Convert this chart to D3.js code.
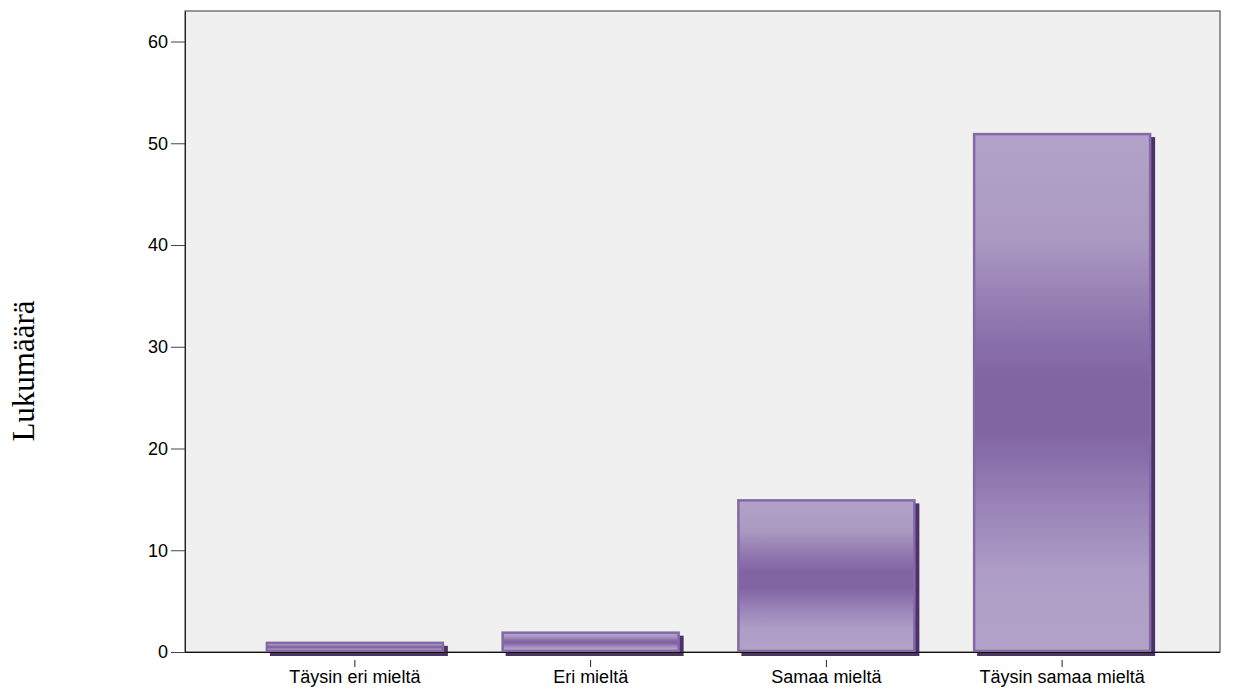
<!DOCTYPE html>
<html>
<head>
<meta charset="utf-8">
<script src="https://cdn.jsdelivr.net/npm/d3@7"></script>
<style>
  body { margin: 0; background: #fff; }
  svg { display: block; }
</style>
</head>
<body>
<div id="chart"></div>
<script>
// data
const categories = ["Täysin eri mieltä", "Eri mieltä", "Samaa mieltä", "Täysin samaa mieltä"];
const counts = [1, 2, 15, 51];
const yTicks = [0, 10, 20, 30, 40, 50, 60];

const W = 1234, H = 688;
const plot = { left: 185, top: 11, right: 1220, bottom: 652 };

const svg = d3.select("#chart").append("svg")
    .attr("width", W)
    .attr("height", H);

// gradient for bars: light at top and bottom, dark purple in the middle
const defs = svg.append("defs");
const grad = defs.append("linearGradient")
    .attr("id", "barGrad")
    .attr("x1", 0).attr("y1", 0).attr("x2", 0).attr("y2", 1);
[[0, "#b2a2c8"], [0.2, "#ab99c2"], [0.38, "#8d74ad"], [0.48, "#8063a1"], [0.58, "#8165a3"], [0.72, "#9a84b8"], [0.85, "#ae9dc6"], [1, "#b2a2c8"]]
    .forEach(([o, c]) => grad.append("stop").attr("offset", o).attr("stop-color", c));

// plot background
svg.append("rect")
    .attr("x", plot.left)
    .attr("y", plot.top)
    .attr("width", plot.right - plot.left)
    .attr("height", plot.bottom - plot.top)
    .attr("fill", "#f0f0f0")
    .attr("stroke", "#555")
    .attr("stroke-width", 1.2);

// scales
const x = d3.scaleBand()
    .domain(categories)
    .range([237, 1180])
    .paddingInner(0.245)
    .paddingOuter(0.1225);

const y = d3.scaleLinear()
    .domain([0, 63])
    .range([plot.bottom, plot.top]);

const barData = categories.map((c, i) => ({ cat: c, value: counts[i] }));

// shadows
svg.selectAll(".shadow")
    .data(barData)
    .enter()
    .append("rect")
    .attr("class", "shadow")
    .attr("x", d => x(d.cat) + 4)
    .attr("y", d => y(d.value) + 4)
    .attr("width", x.bandwidth())
    .attr("height", d => y(0) - y(d.value))
    .attr("fill", "#4a3463");

// bars
svg.selectAll(".bar")
    .data(barData)
    .enter()
    .append("rect")
    .attr("class", "bar")
    .attr("x", d => x(d.cat) + 1)
    .attr("y", d => y(d.value) + 1)
    .attr("width", x.bandwidth() - 2)
    .attr("height", d => y(0) - y(d.value) - 2)
    .attr("fill", "url(#barGrad)")
    .attr("stroke", "#8468aa")
    .attr("stroke-width", 2.5);

// y axis
const yAxis = svg.append("g")
    .attr("transform", `translate(${plot.left},0)`)
    .call(d3.axisLeft(y).tickValues(yTicks).tickSize(14).tickPadding(3).tickSizeOuter(0));
yAxis.select(".domain").attr("stroke", "#222");
yAxis.selectAll(".tick line").attr("stroke", "#444");
yAxis.selectAll("text")
    .attr("font-family", "Liberation Sans, Arial, sans-serif")
    .attr("font-size", 18)
    .attr("fill", "#000");

// x axis
const xAxis = svg.append("g")
    .attr("transform", `translate(0,${plot.bottom})`)
    .call(d3.axisBottom(x).tickSize(15).tickPadding(3).tickSizeOuter(0));
xAxis.select(".domain")
    .attr("d", `M${plot.left},0.5H${plot.right}`)
    .attr("stroke", "#111");
xAxis.selectAll(".tick line")
    .attr("y1", 8)
    .attr("stroke", "#222");
xAxis.selectAll("text")
    .attr("font-family", "Liberation Sans, Arial, sans-serif")
    .attr("font-size", 18)
    .attr("fill", "#000");

// y axis title
svg.append("text")
    .attr("transform", "translate(34,371) rotate(-90)")
    .attr("text-anchor", "middle")
    .attr("font-family", "Liberation Serif, Times New Roman, serif")
    .attr("font-size", 31)
    .attr("fill", "#000")
    .text("Lukumäärä");
</script>
</body>
</html>
